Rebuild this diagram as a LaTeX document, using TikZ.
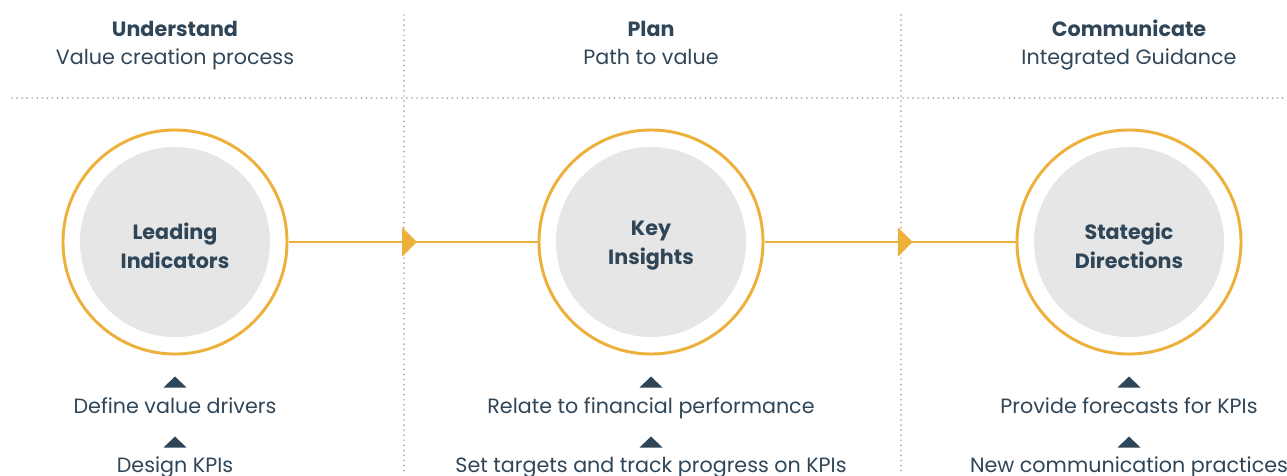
\documentclass[tikz,border=0pt]{standalone}
\usepackage{fontspec}
\setmainfont{Poppins}
\usetikzlibrary{positioning}
\usetikzlibrary{arrows.meta}
\usetikzlibrary{decorations.markings}

\definecolor{gold}{HTML}{EDB03A}
\definecolor{slate}{HTML}{2F4558}
\definecolor{mist}{HTML}{E6E6E6}
\definecolor{dotgray}{HTML}{AAAAAA}

\begin{document}
\begin{tikzpicture}[x=0.025cm,y=-0.025cm,
    divider/.style={draw=dotgray, line width=1.4pt, line cap=round, dash pattern=on 0pt off 3.6pt},
    head/.style={text=slate, inner sep=0pt, text height=10pt, text depth=3pt, font=\bfseries\fontsize{14.7}{17}\selectfont},
    sub/.style={text=slate, inner sep=0pt, text height=10pt, text depth=3pt, font=\fontsize{14.7}{17}\selectfont},
    ring/.style={circle, draw=gold, line width=2.1pt, fill=white, minimum size=5.6cm,
        path picture={\fill[mist] (path picture bounding box.center) circle (2.375cm);}},
    core/.style={text=slate, align=center, yshift=-0.1cm, font=\bfseries\fontsize{14.7}{20.6}\selectfont},
    flow/.style={draw=gold, line width=2.1pt, postaction={decorate},
        decoration={markings, mark=at position #1 with {\arrow[gold]{Triangle[length=0.37cm,width=0.72cm]}}}},
    pics/caret/.style={code={\fill[slate] (-11.5,5.5) -- (11.5,5.5) -- (0,-5.5) -- cycle;}}
]
    \useasboundingbox (0,0) rectangle (1287,475);

    % dotted grid
    \draw[divider] (12,98) -- (1287,98);
    \draw[divider] (404,15) -- (404,475);
    \draw[divider] (901,15) -- (901,475);

    % column heads
    \node[head] (understand) at (175,32) {Understand};
    \node[sub] (valproc) at (175,60) {Value creation process};
    \node[head] (plan) at (651,32) {Plan};
    \node[sub] (path) at (651,60) {Path to value};
    \node[head] (communicate) at (1129,32) {Communicate};
    \node[sub] (guidance) at (1129,60) {Integrated Guidance};

    % circles
    \node[ring, label={[core]center:Leading\\Indicators}] (lead) at (175,242) {};
    \node[ring, label={[core]center:Key\\Insights}] (insight) at (651,242) {};
    \node[ring, label={[core]center:Stategic\\Directions}] (direct) at (1129,242) {};

    \draw[flow=0.516] (lead) -- (insight);
    \draw[flow=0.59] (insight) -- (direct);

    % steps
    \pic at (175,382) {caret};
    \node[sub] (drivers) at (175,409) {Define value drivers};
    \pic at (175,442) {caret};
    \node[sub] (design) at (175,468) {Design KPIs};

    \pic at (651,382) {caret};
    \node[sub] (relate) at (651,409) {Relate to financial performance};
    \pic at (651,442) {caret};
    \node[sub] (targets) at (651,468) {Set targets and track progress on KPIs};

    \pic at (1129,382) {caret};
    \node[sub] (forecast) at (1129,409) {Provide forecasts for KPIs};
    \pic at (1129,442) {caret};
    \node[sub] (practices) at (1129,468) {New communication practices};
\end{tikzpicture}
\end{document}
